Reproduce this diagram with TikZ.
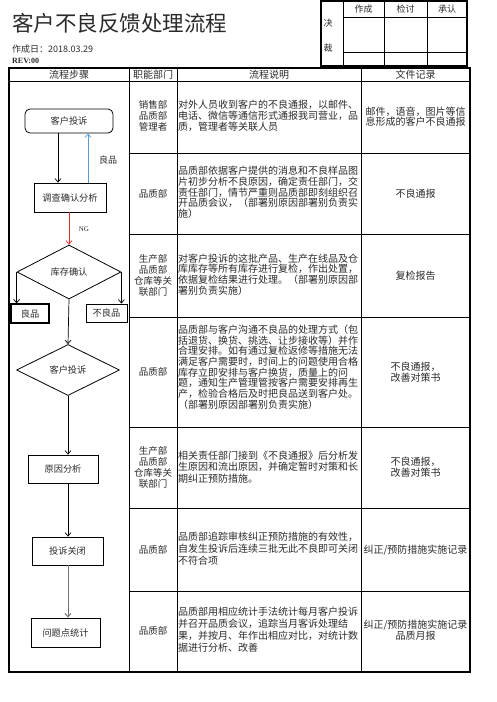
\documentclass[tikz,border=0pt]{standalone}
\usepackage{fontspec}
\newfontfamily\cjk{Noto Sans CJK SC}
\newfontfamily\lserif{Liberation Serif}
\usetikzlibrary{arrows.meta,shapes.geometric}
\definecolor{txt}{HTML}{2A2A2A}
\definecolor{bluearr}{HTML}{5B9BD5}
\definecolor{redarr}{HTML}{E02828}
\tikzset{
  thickline/.style={line width=1.6pt},
  thinline/.style={line width=0.8pt},
  body/.style={font=\cjk\fontsize{10}{10.7}\selectfont, text=txt, inner sep=0pt, align=left, anchor=west},
  dept/.style={font=\cjk\fontsize{9.5}{11}\selectfont, text=txt, inner sep=0pt, align=center},
  filetxt/.style={font=\cjk\fontsize{10}{11}\selectfont, text=txt, inner sep=0pt, align=center},
  hdr/.style={font=\cjk\fontsize{10}{11}\selectfont, text=txt, inner sep=0pt},
  flowbox/.style={draw, line width=0.8pt, font=\cjk\fontsize{9.2}{10}\selectfont, text=txt, inner sep=0pt},
  flowdia/.style={draw, diamond, line width=0.8pt, font=\cjk\fontsize{9.2}{10}\selectfont, text=txt, inner sep=0pt},
  arr/.style={line width=0.7pt, -{Straight Barb[length=3.5pt,width=6pt]}},
}
\begin{document}
\begin{tikzpicture}[x=1pt,y=-1pt]
\useasboundingbox (0,0) rectangle (496,702);

% ---- title area
\node[font=\cjk\fontsize{21.5}{22}\selectfont, text=txt, anchor=west, inner sep=0pt] (title) at (12,23) {客户不良反馈处理流程};
\node[font=\cjk\fontsize{9}{10}\selectfont, text=txt, anchor=west, inner sep=0pt] (date) at (12,49) {作成日：2018.03.29};
\node[font=\lserif\bfseries\fontsize{8}{9}\selectfont, text=txt, anchor=west, inner sep=0pt] (rev) at (12,60.5) {REV:00};

% ---- approval box
\draw[thickline] (321,1) rectangle (467,66);
\draw[thinline] (343,1) -- (343,66);
\draw[thinline] (384,1) -- (384,66);
\draw[thinline] (427,1) -- (427,66);
\draw[thinline] (343,17) -- (467,17);
\draw[thinline] (343,52) -- (467,52);
\node[hdr, font=\cjk\fontsize{9}{10}\selectfont] (jue) at (328,23) {决};
\node[hdr, font=\cjk\fontsize{9}{10}\selectfont] (cai) at (328,48) {裁};
\node[hdr, font=\cjk\fontsize{9}{10}\selectfont] (zc) at (363.5,9) {作成};
\node[hdr, font=\cjk\fontsize{9}{10}\selectfont] (jt) at (405.5,9) {检讨};
\node[hdr, font=\cjk\fontsize{9}{10}\selectfont] (cr) at (447,9) {承认};

% ---- table frame
\draw[thickline] (9,68) rectangle (470,672);
\draw[thinline] (9,81) -- (470,81);
\draw[thinline] (129,68) -- (129,672);
\draw[thinline] (177,68) -- (177,672);
\draw[thinline] (361,68) -- (361,672);
\foreach \yy in {153,234,317,427,508,591}
  \draw[thinline] (129,\yy) -- (470,\yy);

% header texts
\node[hdr] (h1) at (69,74.5) {流程步骤};
\node[hdr] (h2) at (153,74.5) {职能部门};
\node[hdr] (h3) at (269,74.5) {流程说明};
\node[hdr] (h4) at (415.5,74.5) {文件记录};

% ---- row 1
\node[dept] (d1) at (153,116) {销售部\\品质部\\管理者};
\node[body, font=\cjk\fontsize{10}{11}\selectfont] (t1) at (178,116) {对外人员收到客户的不良通报，以邮件、\\电话、微信等通信形式通报我司营业，品\\质，管理者等关联人员};
\node[filetxt, font=\cjk\fontsize{10}{10.5}\selectfont] (f1) at (415.5,116.5) {邮件，语音，图片等信\\息形成的客户不良通报};

% ---- row 2
\node[dept] (d2) at (153,193.5) {品质部};
\node[body] (t2) at (178,192.5) {品质部依据客户提供的消息和不良样品图\\片初步分析不良原因，确定责任部门，交\\责任部门，情节严重则品质部即刻组织召\\开品质会议，（部署别原因部署别负责实\\施）};
\node[filetxt] (f2) at (415.5,193.5) {不良通报};

% ---- row 3
\node[dept] (d3) at (153,275) {生产部\\品质部\\仓库等关\\联部门};
\node[body] (t3) at (178,274.5) {对客户投诉的这批产品、生产在线品及仓\\库库存等所有库存进行复检，作出处置，\\依据复检结果进行处理。（部署别原因部\\署别负责实施）};
\node[filetxt] (f3) at (415.5,275.5) {复检报告};

% ---- row 4
\node[dept] (d4) at (153,372) {品质部};
\node[body] (t4) at (178,367) {品质部与客户沟通不良品的处理方式（包\\括退货、换货、挑选、让步接收等）并作\\合理安排。如有通过复检返修等措施无法\\满足客户需要时，时间上的问题使用合格\\库存立即安排与客户换货，质量上的问\\题，通知生产管理管按客户需要安排再生\\产，检验合格后及时把良品送到客户处。\\（部署别原因部署别负责实施）};
\node[filetxt] (f4) at (415.5,372) {不良通报，\\改善对策书};

% ---- row 5
\node[dept] (d5) at (153,467) {生产部\\品质部\\仓库等关\\联部门};
\node[body, font=\cjk\fontsize{10}{11.2}\selectfont] (t5) at (178,467) {相关责任部门接到《不良通报》后分析发\\生原因和流出原因，并确定暂时对策和长\\期纠正预防措施。};
\node[filetxt] (f5) at (415.5,467) {不良通报，\\改善对策书};

% ---- row 6
\node[dept] (d6) at (153,549.5) {品质部};
\node[body, font=\cjk\fontsize{10}{12}\selectfont] (t6) at (178,549) {品质部追踪审核纠正预防措施的有效性，\\自发生投诉后连续三批无此不良即可关闭\\不符合项};
\node[filetxt] (f6) at (415.5,550) {纠正/预防措施实施记录};

% ---- row 7
\node[dept] (d7) at (153,631) {品质部};
\node[body, font=\cjk\fontsize{10}{12.2}\selectfont] (t7) at (178,629.5) {品质部用相应统计手法统计每月客户投诉\\并召开品质会议，追踪当月客诉处理结\\果，并按月、年作出相应对比，对统计数\\据进行分析、改善};
\node[filetxt, font=\cjk\fontsize{10}{10.5}\selectfont] (f7) at (415.5,630) {纠正/预防措施实施记录\\品质月报};

% ---- flowchart
\node[flowbox, rounded corners=5pt, minimum width=88pt, minimum height=24pt] (k1) at (69,121) {客户投诉};
\node[flowbox, minimum width=72pt, minimum height=29pt] (a1) at (70,197.5) {调查确认分析};
\node[flowdia, minimum width=104pt, minimum height=54pt] (m1) at (69,272) {库存确认};
\node[flowbox, line width=1.4pt, minimum width=38pt, minimum height=19pt] (g1) at (30,313.5) {良品};
\node[flowbox, minimum width=41pt, minimum height=18pt] (b1) at (106.5,313) {不良品};
\node[flowdia, minimum width=103pt, minimum height=51pt] (m2) at (68,370) {客户投诉};
\node[flowbox, minimum width=70pt, minimum height=28pt] (r1) at (63,469) {原因分析};
\node[flowbox, minimum width=71pt, minimum height=28pt] (r2) at (67.5,551) {投诉关闭};
\node[flowbox, minimum width=69pt, minimum height=29pt] (r3) at (65.5,632.5) {问题点统计};

\node[hdr, font=\cjk\fontsize{9}{10}\selectfont] (lg) at (108,160) {良品};
\node[font=\lserif\fontsize{7}{8}\selectfont, text=txt, inner sep=0pt] (ng) at (84,229) {NG};

\draw[arr] (k1.south -| 58,0) -- (a1.north -| 58,0);
\draw[arr, draw=bluearr] (a1.north -| 88,0) -- (k1.south -| 88,0);
\draw[arr, draw=redarr] (a1.south -| 69,0) -- (m1.north);
\draw[arr] (m1.west) -- (m1.west |- g1.north);
\draw[arr] (m1.east) -- (m1.east |- b1.north);
\draw[arr] (m1.south) -- (m2.north);
\draw[arr] (m2.south) -- (m2.south |- r1.north);
\draw[arr] (r1.south -| 68,0) -- (r2.north -| 68,0);
\draw[arr, draw=black!55, line width=1pt] (r2.south -| 68,0) -- (r3.north -| 68,0);
\end{tikzpicture}
\end{document}
